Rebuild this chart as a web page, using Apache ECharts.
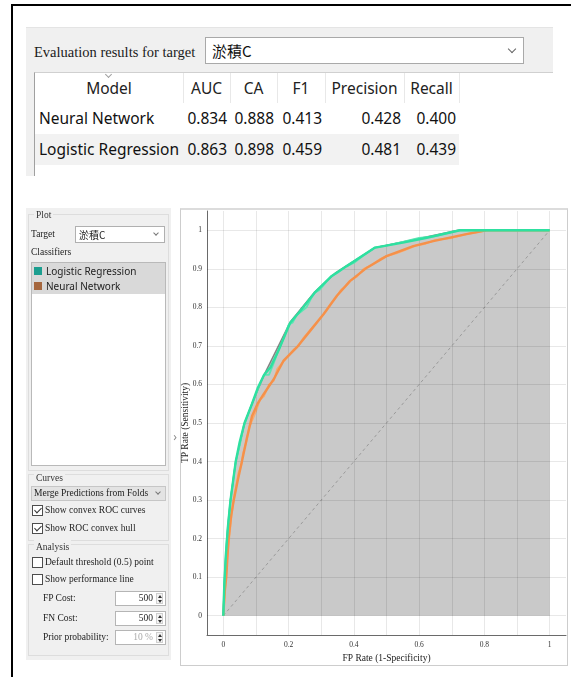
<!DOCTYPE html>
<html>
<head>
<meta charset="utf-8">
<script src="https://cdn.jsdelivr.net/npm/echarts@6/dist/echarts.min.js"></script>
<style>
  html, body { margin: 0; padding: 0; background: #fff; width: 571px; height: 677px; overflow: hidden; position: relative; }
  #roc { position: absolute; left: 181px; top: 209px; width: 386px; height: 456px; }
</style>
</head>
<body>
<div id="roc"></div>
<script>
// ---- evaluation table ----
const metricHeaders = ['Model', 'AUC', 'CA', 'F1', 'Precision', 'Recall'];
const modelNames = ['Neural Network', 'Logistic Regression'];
const aucValues = [0.834, 0.863];
const caValues = [0.888, 0.898];
const f1Values = [0.413, 0.459];
const precisionValues = [0.428, 0.481];
const recallValues = [0.400, 0.439];
const targetClass = '淤積C';

// ---- classifier list ----
const classifierNames = ['Logistic Regression', 'Neural Network'];

// ---- axis ticks ----
const xTickValues = [0, 0.2, 0.4, 0.6, 0.8, 1];
const yTickValues = [0, 0.1, 0.2, 0.3, 0.4, 0.5, 0.6, 0.7, 0.8, 0.9, 1];
const gridSteps = [0, 0.1, 0.2, 0.3, 0.4, 0.5, 0.6, 0.7, 0.8, 0.9, 1];

// ---- ROC curves: [FP rate, TP rate] ----
const lrRocPoints = [[0,0],[0.002,0.06],[0.005,0.12],[0.01,0.19],[0.016,0.25],[0.022,0.3],[0.03,0.35],[0.038,0.4],[0.05,0.44],[0.062,0.49],[0.075,0.52],[0.088,0.55],[0.1,0.575],[0.112,0.6],[0.125,0.625],[0.14,0.625],[0.152,0.65],[0.17,0.69],[0.185,0.72],[0.2,0.755],[0.212,0.76],[0.225,0.78],[0.24,0.79],[0.255,0.8],[0.27,0.825],[0.28,0.838],[0.295,0.845],[0.31,0.86],[0.33,0.88],[0.35,0.89],[0.378,0.907],[0.4,0.915],[0.43,0.935],[0.465,0.955],[0.5,0.96],[0.55,0.97],[0.6,0.98],[0.65,0.985],[0.7,0.995],[0.725,1],[1,1]];
const lrConvexPoints = [[0,0],[0.003,0.08],[0.008,0.16],[0.014,0.23],[0.022,0.3],[0.03,0.35],[0.038,0.4],[0.05,0.45],[0.065,0.5],[0.088,0.55],[0.105,0.59],[0.125,0.625],[0.145,0.645],[0.17,0.69],[0.19,0.73],[0.205,0.76],[0.235,0.79],[0.28,0.838],[0.33,0.88],[0.378,0.907],[0.465,0.955],[0.55,0.968],[0.62,0.98],[0.725,1],[1,1]];
const nnRocPoints = [[0,0],[0.004,0.05],[0.008,0.1],[0.012,0.15],[0.018,0.2],[0.024,0.25],[0.03,0.29],[0.038,0.33],[0.046,0.37],[0.055,0.39],[0.06,0.42],[0.07,0.45],[0.08,0.49],[0.09,0.51],[0.1,0.53],[0.112,0.56],[0.125,0.57],[0.14,0.6],[0.155,0.61],[0.165,0.64],[0.175,0.65],[0.19,0.665],[0.205,0.68],[0.215,0.69],[0.23,0.7],[0.245,0.72],[0.26,0.735],[0.275,0.75],[0.285,0.76],[0.3,0.775],[0.315,0.79],[0.33,0.81],[0.345,0.825],[0.36,0.845],[0.375,0.855],[0.39,0.87],[0.41,0.88],[0.43,0.9],[0.455,0.91],[0.48,0.925],[0.5,0.933],[0.53,0.94],[0.56,0.95],[0.59,0.96],[0.62,0.965],[0.65,0.975],[0.7,0.98],[0.745,0.99],[0.78,0.995],[0.806,1],[1,1]];
const nnConvexPoints = [[0,0],[0.004,0.06],[0.009,0.1],[0.016,0.2],[0.024,0.26],[0.032,0.3],[0.044,0.35],[0.057,0.4],[0.072,0.46],[0.088,0.518],[0.105,0.55],[0.123,0.574],[0.154,0.613],[0.184,0.661],[0.225,0.696],[0.266,0.739],[0.307,0.782],[0.348,0.83],[0.388,0.868],[0.44,0.903],[0.5,0.933],[0.582,0.959],[0.643,0.972],[0.745,0.99],[0.806,1],[1,1]];
const hullPoints = [[0,0],[0.003,0.08],[0.008,0.16],[0.014,0.23],[0.022,0.3],[0.038,0.4],[0.065,0.5],[0.088,0.55],[0.125,0.625],[0.205,0.762],[0.28,0.84],[0.345,0.89],[0.465,0.955],[0.72,1],[1,1]];
const chancePoints = [[0,0],[1,1]];

// ---------- widget chrome helpers ----------
const SERIF = '"Liberation Serif","DejaVu Serif",serif';
const SANS = '"Noto Sans","Open Sans",sans-serif';
const CJK = '"Noto Sans CJK TC","Noto Sans CJK SC",sans-serif';

function box(x, y, w, h, style) {
  const d = document.createElement('div');
  d.style.cssText = `position:absolute;left:${x}px;top:${y}px;width:${w}px;height:${h}px;box-sizing:border-box;` + (style || '');
  document.body.appendChild(d);
  return d;
}
function text(x, cy, str, font, size, color, align, w, extra) {
  const h = Math.round(size * 1.6);
  const d = document.createElement('div');
  let pos;
  if (align === 'right') pos = `left:${x - w}px;width:${w}px;text-align:right;`;
  else if (align === 'center') pos = `left:${x - w / 2}px;width:${w}px;text-align:center;`;
  else pos = `left:${x}px;`;
  d.style.cssText = `position:absolute;top:${cy - h / 2}px;height:${h}px;line-height:${h}px;white-space:nowrap;font-family:${font};font-size:${size}px;color:${color};` + pos + (extra || '');
  d.textContent = str;
  document.body.appendChild(d);
  return d;
}
function chevron(cx, cy, s, color) {
  box(cx - s / 2, cy - s / 2 - s * 0.3, s, s, `border-right:1px solid ${color};border-bottom:1px solid ${color};transform:rotate(45deg);`);
}
function checkbox(x, cy, checked) {
  box(x, cy - 5, 11, 11, 'background:#fff;border:1px solid #4d4d4d;');
  if (checked) box(x + 3.5, cy - 4, 4, 7, 'border-right:1.5px solid #333;border-bottom:1.5px solid #333;transform:rotate(45deg);');
}
function spinbox(x, y, w, str, color) {
  box(x, y, w, 15, 'background:#fff;border:1px solid #b5b5b5;');
  text(x + w - 13, y + 7.5, str, SERIF, 9.5, color, 'right', 40);
  box(x + w - 10, y + 2, 7, 11, 'background:#f4f4f4;border:1px solid #cfcfcf;');
  box(x + w - 8.5, y + 3.5, 0, 0, 'border-left:2px solid transparent;border-right:2px solid transparent;border-bottom:3px solid #333;');
  box(x + w - 8.5, y + 9, 0, 0, 'border-left:2px solid transparent;border-right:2px solid transparent;border-top:3px solid #333;');
}

// ---------- frame ----------
box(11, 4, 600, 700, 'border-left:2px solid #000;border-top:2px solid #000;');

// ---------- evaluation results panel ----------
box(26, 27, 527, 149, 'background:#f0f0f0;border-top:1px solid #e4e4e4;');
text(34, 52, 'Evaluation results for target', SERIF, 14.5, '#1a1a1a');
box(205, 37, 319, 27, 'background:#fff;border:1px solid #a9a9a9;');
text(212, 50.5, targetClass, CJK, 15, '#111');
chevron(512, 50.5, 6, '#666');

box(34, 72, 519, 104, 'background:#fff;border-top:1px solid #d0d0d0;border-left:1px solid #a0a0a0;');
const colEdges = [35, 183, 230, 277, 325, 404, 459];
const headerTop = 73, headerH = 30, rowH = 31;
for (let i = 1; i < colEdges.length; i++) box(colEdges[i], headerTop, 1, headerH, 'background:#e8e8e8;');
metricHeaders.forEach((h, i) => {
  const cx = (colEdges[i] + colEdges[i + 1]) / 2;
  text(cx, headerTop + 15.5, h, SANS, 15.5, '#222', 'center', 120);
});
chevron(108, 75.5, 5, '#a0a0a0');
const metricColumns = [aucValues, caValues, f1Values, precisionValues, recallValues];
modelNames.forEach((name, r) => {
  const top = headerTop + headerH + r * rowH;
  if (r % 2 === 1) box(35, top, colEdges[colEdges.length - 1] - 35, rowH, 'background:#f2f2f2;');
  const cy = top + rowH / 2;
  text(39, cy, name, SANS, 15.5, '#111');
  metricColumns.forEach((vals, c) => {
    text(colEdges[c + 2] - 3, cy, vals[r].toFixed(3), SANS, 15.5, '#111', 'right', 60);
  });
});

// ---------- ROC options panel ----------
box(26, 208, 145, 452, 'background:#f0f0f0;');
// Plot group
box(28, 214, 141, 257, 'border:1px solid #dddddd;');
text(34, 215, 'Plot', SERIF, 9.5, '#333', null, 0, 'background:#f0f0f0;padding:0 2px;');
text(31, 234, 'Target', SERIF, 9.5, '#222');
box(75, 226, 90, 17, 'background:#fff;border:1px solid #b0b0b0;');
text(79, 234.5, targetClass, CJK, 10, '#222');
chevron(156, 234.5, 4, '#777');
text(31, 252, 'Classifiers', SERIF, 9.5, '#222');
box(31, 262, 135, 204, 'background:#fff;border:1px solid #b9b9b9;');
box(32, 263, 133, 31, 'background:#d9d9d9;');
const swatchColors = ['#1b9e8f', '#a5673e'];
classifierNames.forEach((name, i) => {
  const cy = 270.5 + i * 15.5;
  box(34, cy - 4, 8, 8, `background:${swatchColors[i]};`);
  text(46, cy, name, SANS, 10, '#222');
});
text(175, 436, '›', SANS, 12, '#8a8a8a', 'center', 10);

// Curves group
box(28, 474, 141, 67, 'border:1px solid #dddddd;');
text(34, 478, 'Curves', SERIF, 9.5, '#333', null, 0, 'background:#f0f0f0;padding:0 2px;');
box(31, 486, 135, 15, 'background:#e3e3e3;border:1px solid #c6c6c6;');
text(34, 493.5, 'Merge Predictions from Folds', SERIF, 9.5, '#222');
chevron(158, 493.5, 4, '#777');
checkbox(32, 510, true);
text(45, 510, 'Show convex ROC curves', SERIF, 9.5, '#222');
checkbox(32, 528, true);
text(45, 528, 'Show ROC convex hull', SERIF, 9.5, '#222');

// Analysis group
box(28, 544, 141, 112, 'border:1px solid #dddddd;');
text(34, 547, 'Analysis', SERIF, 9.5, '#333', null, 0, 'background:#f0f0f0;padding:0 2px;');
checkbox(32, 562, false);
text(45, 562, 'Default threshold (0.5) point', SERIF, 9.5, '#222');
checkbox(32, 579, false);
text(45, 579, 'Show performance line', SERIF, 9.5, '#222');
text(43, 598, 'FP Cost:', SERIF, 9.5, '#222');
spinbox(115, 591, 51, '500', '#222');
text(43, 618, 'FN Cost:', SERIF, 9.5, '#222');
spinbox(115, 611, 51, '500', '#222');
text(43, 637, 'Prior probability:', SERIF, 9.5, '#222');
spinbox(115, 630, 51, '10 %', '#aaaaaa');

// ---------- ROC plot ----------
box(180, 208, 388, 458, 'border:1px solid #cdcdcd;border-top:2px solid #dcdcdc;');

const chart = echarts.init(document.getElementById('roc'), null, { renderer: 'canvas' });
const tickFmt = v => String(Math.round(v * 10) / 10);
const axisLabelStyle = { fontFamily: 'Liberation Serif', fontSize: 7.5, color: '#333' };
const axisNameStyle = { fontFamily: 'Liberation Serif', fontSize: 9.5, color: '#222' };

chart.setOption({
  animation: false,
  backgroundColor: 'transparent',
  grid: { left: 26, right: 1, top: 2, bottom: 30, containLabel: false, outerBoundsMode: 'none' },
  xAxis: {
    type: 'value', min: -0.05, max: 1.05,
    axisLine: { show: true, onZero: false, lineStyle: { color: '#6a6a6a', width: 1 } },
    axisTick: { show: false },
    splitLine: { show: false },
    axisLabel: Object.assign({ customValues: xTickValues, formatter: tickFmt, margin: 6 }, axisLabelStyle),
    name: 'FP Rate (1-Specificity)', nameLocation: 'middle', nameGap: 18, nameMoveOverlap: false,
    nameTextStyle: axisNameStyle
  },
  yAxis: {
    type: 'value', min: -0.05, max: 1.05,
    axisLine: { show: true, onZero: false, lineStyle: { color: '#6a6a6a', width: 1 } },
    axisTick: { show: false },
    splitLine: { show: false },
    axisLabel: Object.assign({ customValues: yTickValues, formatter: tickFmt, margin: 5 }, axisLabelStyle),
    name: 'TP Rate (Sensitivity)', nameLocation: 'middle', nameGap: 17, nameMoveOverlap: false,
    nameTextStyle: axisNameStyle
  },
  series: [
    {
      name: 'ROC convex hull', type: 'line', data: hullPoints, symbol: 'none', z: 1,
      lineStyle: { color: '#858585', width: 1.5 },
      areaStyle: { color: '#c9c9c9', opacity: 1 }
    },
    {
      name: 'grid', type: 'line', data: [], symbol: 'none', z: 2,
      markLine: {
        silent: true, symbol: 'none', label: { show: false }, animation: false,
        lineStyle: { color: 'rgba(0,0,0,0.09)', type: 'solid', width: 1 },
        data: gridSteps.map(v => ({ xAxis: v })).concat(gridSteps.map(v => ({ yAxis: v })))
      }
    },
    {
      name: 'chance', type: 'line', data: chancePoints, symbol: 'none', z: 3,
      lineStyle: { color: '#9a9a9a', width: 1, type: [3, 3] }
    },
    {
      name: 'Neural Network', type: 'line', data: nnRocPoints, symbol: 'none', z: 4,
      lineStyle: { color: '#f9ab70', width: 1.8 }
    },
    {
      name: 'Neural Network convex', type: 'line', data: nnConvexPoints, symbol: 'none', z: 5,
      lineStyle: { color: '#f5914a', width: 2.4 }
    },
    {
      name: 'Logistic Regression', type: 'line', data: lrRocPoints, symbol: 'none', z: 6,
      lineStyle: { color: '#5de6b4', width: 1.8 }
    },
    {
      name: 'Logistic Regression convex', type: 'line', data: lrConvexPoints, symbol: 'none', z: 7,
      lineStyle: { color: '#2ee0a0', width: 2.4 }
    }
  ]
});
</script>
</body>
</html>
